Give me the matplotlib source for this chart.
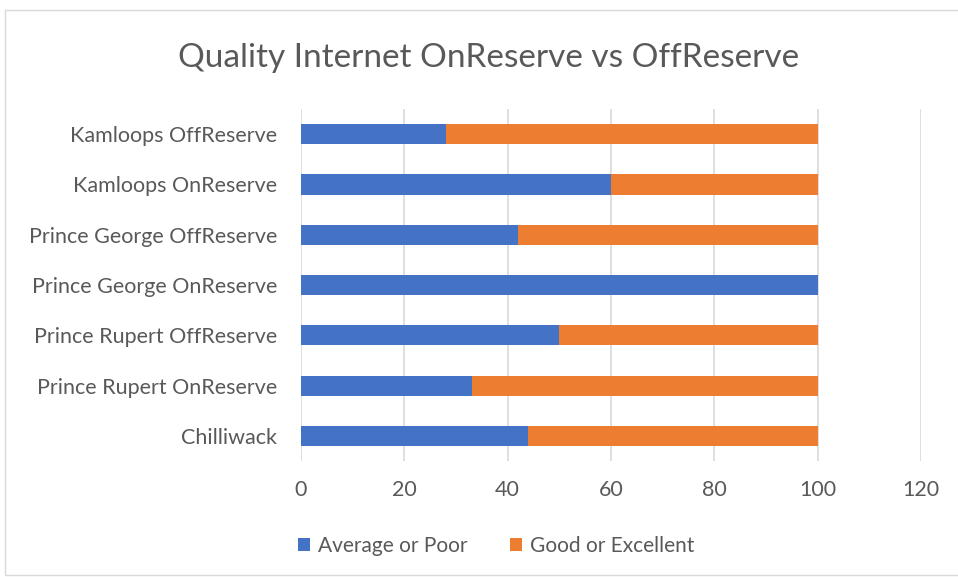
import numpy as np
import matplotlib.pyplot as plt

plt.rcParams['font.family'] = ['Lato', 'DejaVu Sans']

places = ["Chilliwack", "Prince Rupert OnReserve", "Prince Rupert OffReserve",
          "Prince George OnReserve", "Prince George OffReserve",
          "Kamloops OnReserve", "Kamloops OffReserve"]
avg_poor = [44, 33, 50, 100, 42, 60, 28]
good_exc = [56, 67, 50, 0, 58, 40, 72]

blue = "#4472C4"
orange = "#ED7D31"
txt = "#595959"

fig = plt.figure(figsize=(9.58, 5.77), dpi=100)
ax = fig.add_axes([0.3142, 0.201, 0.6472, 0.610])

y = np.arange(len(places))
ax.barh(y, avg_poor, height=0.4, color=blue, label="Average or Poor", zorder=3)
ax.barh(y, good_exc, left=avg_poor, height=0.4, color=orange, label="Good or Excellent", zorder=3)

ax.set_xlim(0, 120)
ax.set_ylim(-0.5, len(places) - 0.5)
ax.set_xticks(range(0, 121, 20))
ax.set_yticks(y)
ax.set_yticklabels(places)
ax.tick_params(length=0, labelsize=15.5, colors=txt)
ax.tick_params(axis='y', pad=17)
ax.tick_params(axis='x', pad=14)
ax.grid(axis='x', color="#D9D9D9", linewidth=1.2, zorder=0)
for s in ax.spines.values():
    s.set_visible(False)

fig.text(0.510, 0.900, "Quality Internet OnReserve vs OffReserve", ha='center', va='center',
         fontsize=24, color=txt)

fig.legend(loc='center', bbox_to_anchor=(0.518, 0.054), ncol=2, frameon=False,
           fontsize=15, handlelength=0.6, handleheight=0.6, columnspacing=2.0,
           handletextpad=0.4, labelcolor=txt)

# light frame around chart area
fig.patches.append(plt.Rectangle((0.005, 0.003), 1.2, 0.98, transform=fig.transFigure,
                                 fill=False, edgecolor="#D9D9D9", linewidth=1))

fig.savefig("out.png", dpi=100)
